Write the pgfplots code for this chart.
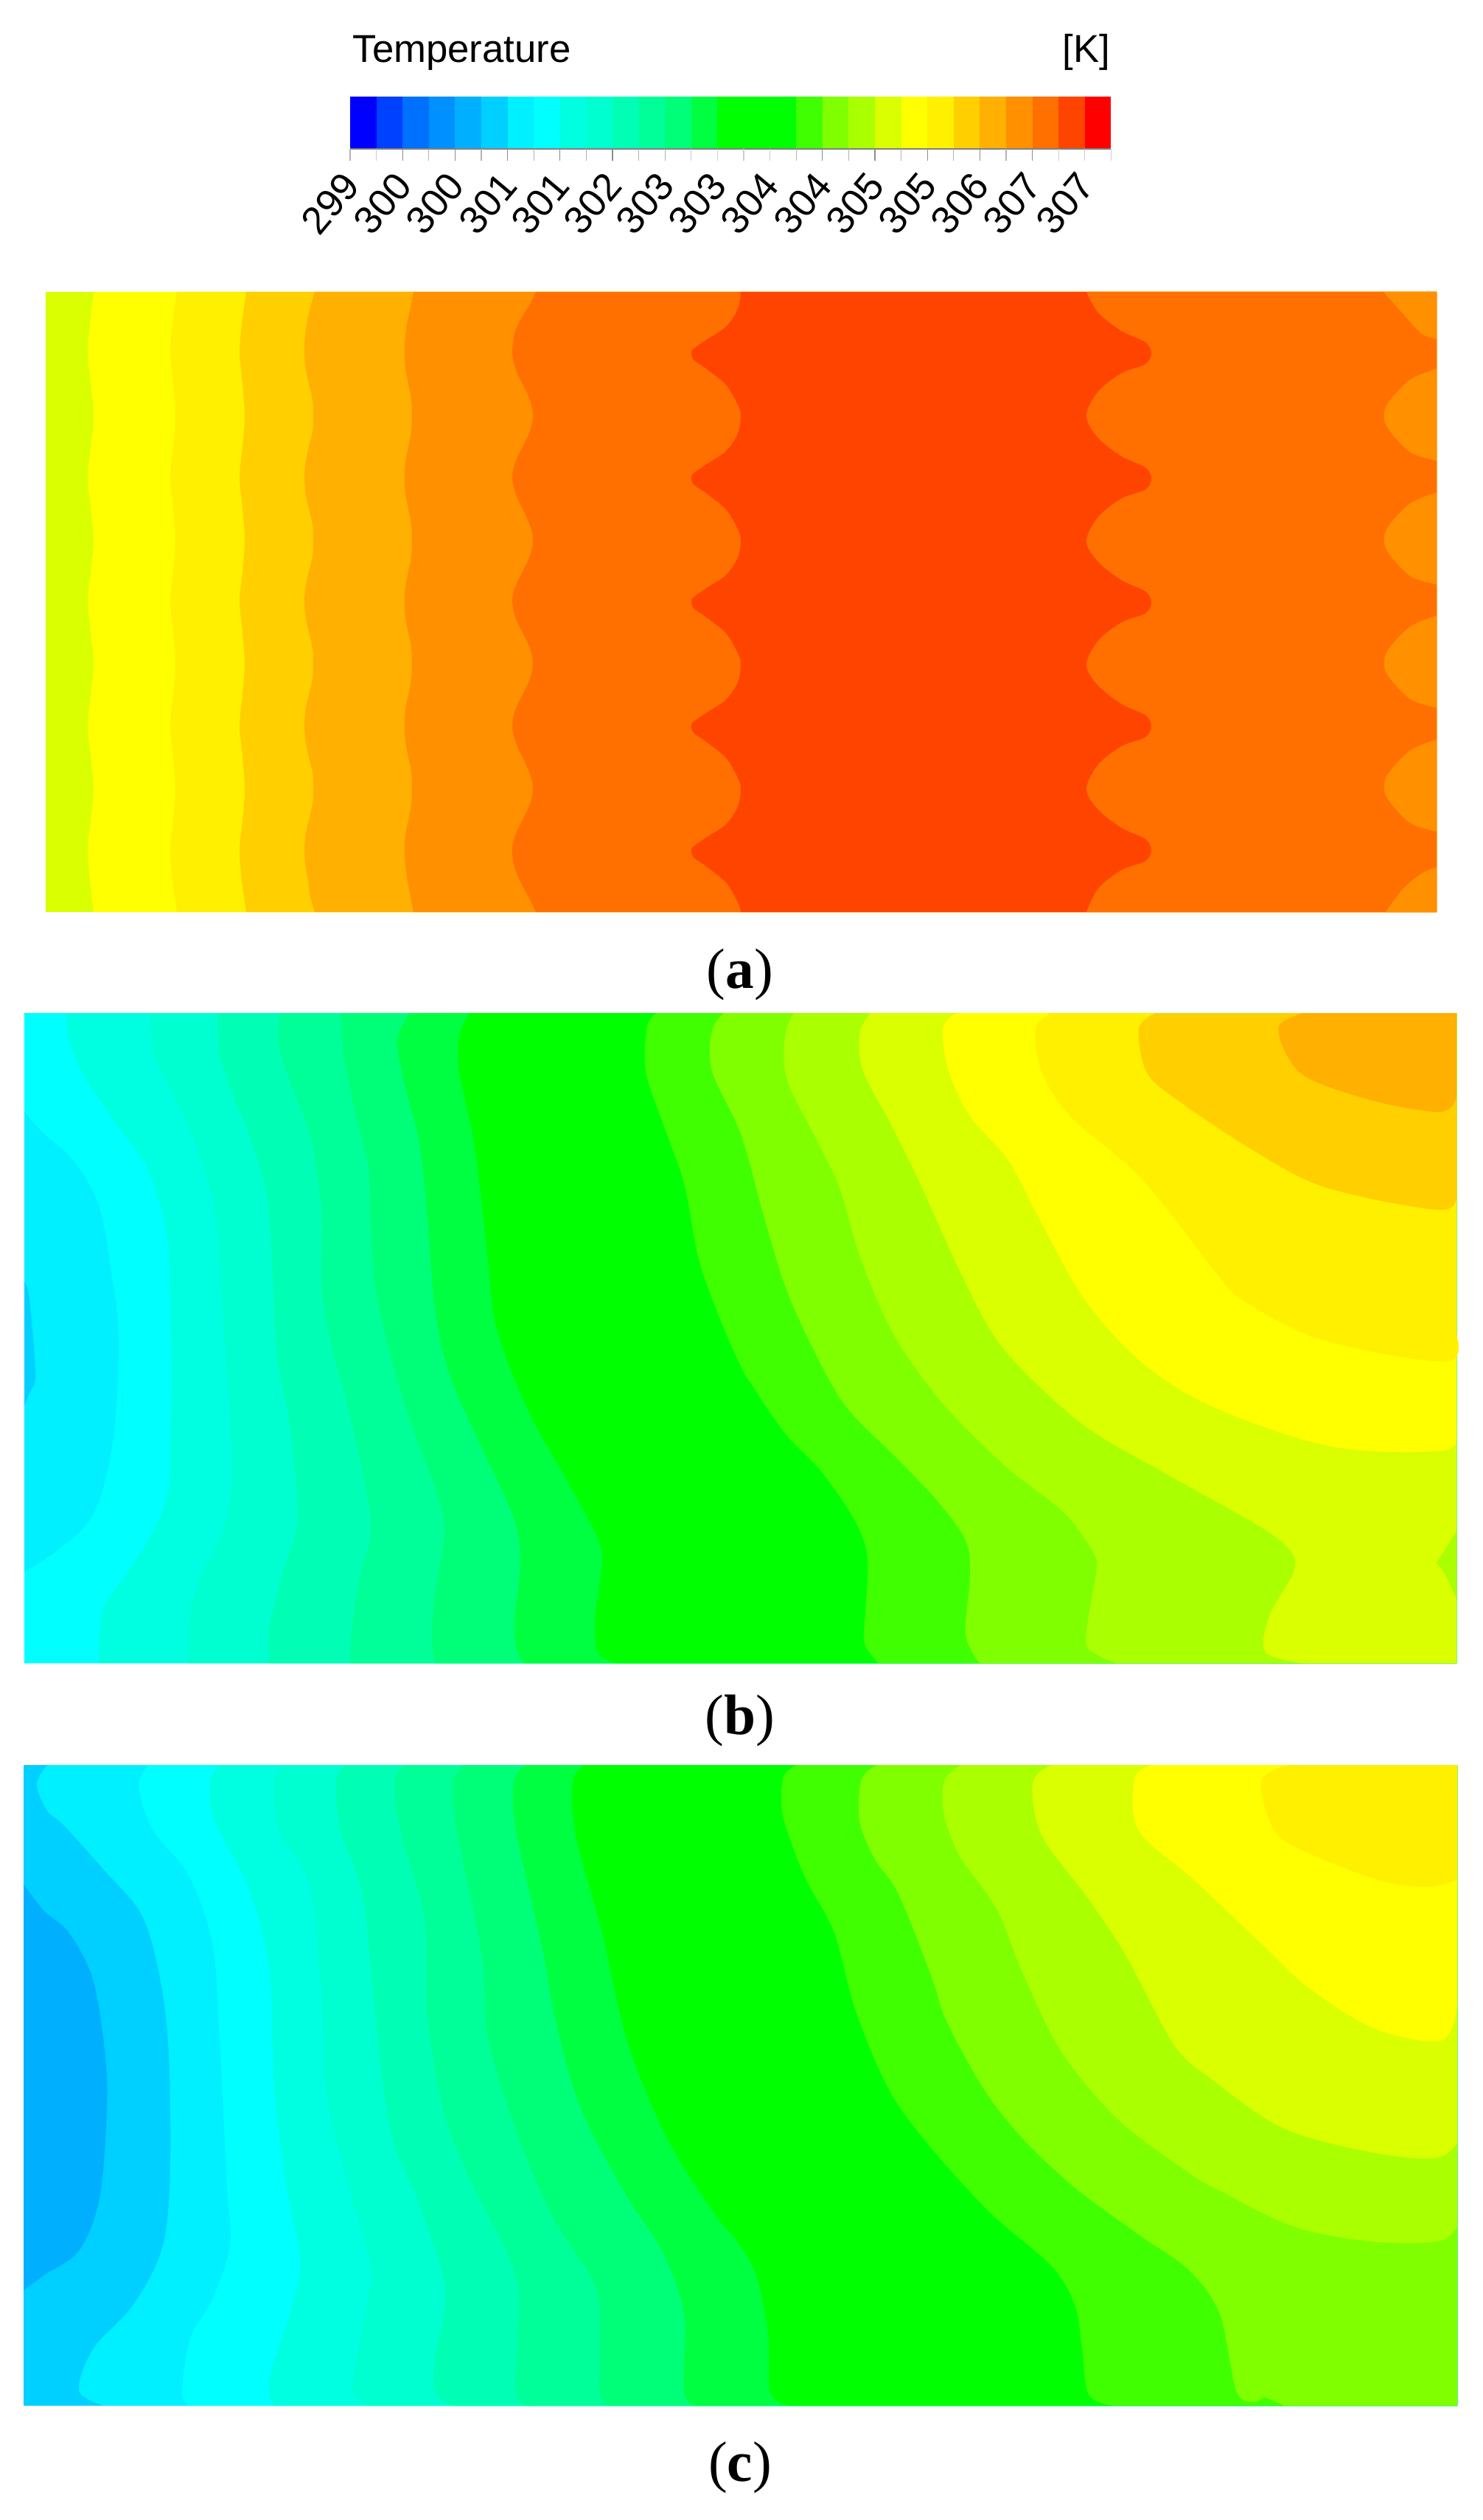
\documentclass[border=0pt]{standalone}
\usepackage{fontspec}
\setmainfont{Liberation Sans}
\newfontfamily\capfont{Liberation Serif}
\usepackage{pgfplots}
\pgfplotsset{compat=1.18}
\definecolor{c00}{HTML}{0000FF}\definecolor{c01}{HTML}{0040FF}\definecolor{c02}{HTML}{0070FF}\definecolor{c03}{HTML}{0090FF}
\definecolor{c04}{HTML}{00B0FF}\definecolor{c05}{HTML}{00D0FF}\definecolor{c06}{HTML}{00F0FF}\definecolor{c07}{HTML}{00FFFF}
\definecolor{c08}{HTML}{00FFE0}\definecolor{c09}{HTML}{00FFD0}\definecolor{c10}{HTML}{00FFB4}\definecolor{c11}{HTML}{00FF98}
\definecolor{c12}{HTML}{00FF78}\definecolor{c13}{HTML}{00FF40}\definecolor{c14}{HTML}{00FF00}\definecolor{c17}{HTML}{40FF00}
\definecolor{c18}{HTML}{80FF00}\definecolor{c19}{HTML}{AAFF00}\definecolor{c20}{HTML}{D9FF00}\definecolor{c21}{HTML}{FFFF00}
\definecolor{c22}{HTML}{FFF000}\definecolor{c23}{HTML}{FFCF00}\definecolor{c24}{HTML}{FFB000}\definecolor{c25}{HTML}{FF9000}
\definecolor{c26}{HTML}{FF7000}\definecolor{c27}{HTML}{FF4400}\definecolor{c28}{HTML}{FF0000}
\tikzset{cf/.style={smooth,tension=0.55,draw=none},cb/.style={draw=none},tk/.style={line width=0.35pt},
 lb/.style={rotate=50,inner sep=0pt,font=\fontsize{15}{17}\selectfont}}
\begin{document}
\begin{tikzpicture}
\begin{axis}[hide axis,scale only axis,width=20.11cm,height=34.18cm,
  xmin=0,xmax=2011,ymin=0,ymax=3418,y dir=reverse,clip=false]
\addplot[fill=white,draw=none] coordinates {(0,0)(2011,0)(2011,3418)(0,3418)} --cycle;
% ---------- colour bar
\addplot[fill=c00,cb] coordinates {(475,131)(511,131)(511,202)(475,202)} --cycle;
\addplot[fill=c01,cb] coordinates {(510.6,131)(547,131)(547,202)(510.6,202)} --cycle;
\addplot[fill=c02,cb] coordinates {(546.2,131)(582,131)(582,202)(546.2,202)} --cycle;
\addplot[fill=c03,cb] coordinates {(581.8,131)(618,131)(618,202)(581.8,202)} --cycle;
\addplot[fill=c04,cb] coordinates {(617.4,131)(653,131)(653,202)(617.4,202)} --cycle;
\addplot[fill=c05,cb] coordinates {(653,131)(689,131)(689,202)(653,202)} --cycle;
\addplot[fill=c06,cb] coordinates {(688.6,131)(725,131)(725,202)(688.6,202)} --cycle;
\addplot[fill=c07,cb] coordinates {(724.2,131)(760,131)(760,202)(724.2,202)} --cycle;
\addplot[fill=c08,cb] coordinates {(759.8,131)(796,131)(796,202)(759.8,202)} --cycle;
\addplot[fill=c09,cb] coordinates {(795.4,131)(831,131)(831,202)(795.4,202)} --cycle;
\addplot[fill=c10,cb] coordinates {(831,131)(867,131)(867,202)(831,202)} --cycle;
\addplot[fill=c11,cb] coordinates {(866.6,131)(903,131)(903,202)(866.6,202)} --cycle;
\addplot[fill=c12,cb] coordinates {(902.2,131)(938,131)(938,202)(902.2,202)} --cycle;
\addplot[fill=c13,cb] coordinates {(937.8,131)(974,131)(974,202)(937.8,202)} --cycle;
\addplot[fill=c14,cb] coordinates {(973.4,131)(1081,131)(1081,202)(973.4,202)} --cycle;
\addplot[fill=c17,cb] coordinates {(1080.2,131)(1116,131)(1116,202)(1080.2,202)} --cycle;
\addplot[fill=c18,cb] coordinates {(1115.8,131)(1152,131)(1152,202)(1115.8,202)} --cycle;
\addplot[fill=c19,cb] coordinates {(1151.4,131)(1187,131)(1187,202)(1151.4,202)} --cycle;
\addplot[fill=c20,cb] coordinates {(1187,131)(1223,131)(1223,202)(1187,202)} --cycle;
\addplot[fill=c21,cb] coordinates {(1222.6,131)(1259,131)(1259,202)(1222.6,202)} --cycle;
\addplot[fill=c22,cb] coordinates {(1258.2,131)(1294,131)(1294,202)(1258.2,202)} --cycle;
\addplot[fill=c23,cb] coordinates {(1293.8,131)(1330,131)(1330,202)(1293.8,202)} --cycle;
\addplot[fill=c24,cb] coordinates {(1329.4,131)(1365,131)(1365,202)(1329.4,202)} --cycle;
\addplot[fill=c25,cb] coordinates {(1365,131)(1401,131)(1401,202)(1365,202)} --cycle;
\addplot[fill=c26,cb] coordinates {(1400.6,131)(1437,131)(1437,202)(1400.6,202)} --cycle;
\addplot[fill=c27,cb] coordinates {(1436.2,131)(1472,131)(1472,202)(1436.2,202)} --cycle;
\addplot[fill=c28,cb] coordinates {(1471.8,131)(1507.4,131)(1507.4,202)(1471.8,202)} --cycle;
\addplot[gray,line width=0.5pt] coordinates {(475,202)(1507.4,202)};
% ticks
\addplot[gray!60,tk] coordinates {(475,202)(475,218)};
\addplot[gray!40,tk] coordinates {(510.6,202)(510.6,218)};
\addplot[gray!90,tk] coordinates {(546.2,202)(546.2,218)};
\addplot[gray!60,tk] coordinates {(581.8,202)(581.8,218)};
\addplot[gray!90,tk] coordinates {(617.4,202)(617.4,218)};
\addplot[gray!60,tk] coordinates {(653,202)(653,218)};
\addplot[gray!90,tk] coordinates {(688.6,202)(688.6,218)};
\addplot[gray!60,tk] coordinates {(724.2,202)(724.2,218)};
\addplot[gray!90,tk] coordinates {(759.8,202)(759.8,218)};
\addplot[gray!60,tk] coordinates {(795.4,202)(795.4,218)};
\addplot[gray!90,tk] coordinates {(831,202)(831,218)};
\addplot[gray!60,tk] coordinates {(866.6,202)(866.6,218)};
\addplot[gray!60,tk] coordinates {(902.2,202)(902.2,218)};
\addplot[gray!40,tk] coordinates {(937.8,202)(937.8,218)};
\addplot[gray!40,tk] coordinates {(973.4,202)(973.4,218)};
\addplot[gray!40,tk] coordinates {(1009,202)(1009,218)};
\addplot[gray!40,tk] coordinates {(1044.6,202)(1044.6,218)};
\addplot[gray!60,tk] coordinates {(1080.2,202)(1080.2,218)};
\addplot[gray!90,tk] coordinates {(1115.8,202)(1115.8,218)};
\addplot[gray!60,tk] coordinates {(1151.4,202)(1151.4,218)};
\addplot[gray!90,tk] coordinates {(1187,202)(1187,218)};
\addplot[gray!60,tk] coordinates {(1222.6,202)(1222.6,218)};
\addplot[gray!90,tk] coordinates {(1258.2,202)(1258.2,218)};
\addplot[gray!60,tk] coordinates {(1293.8,202)(1293.8,218)};
\addplot[gray!90,tk] coordinates {(1329.4,202)(1329.4,218)};
\addplot[gray!60,tk] coordinates {(1365,202)(1365,218)};
\addplot[gray!90,tk] coordinates {(1400.6,202)(1400.6,218)};
\addplot[gray!40,tk] coordinates {(1436.2,202)(1436.2,218)};
\addplot[gray!40,tk] coordinates {(1471.8,202)(1471.8,218)};
\addplot[gray!40,tk] coordinates {(1507.4,202)(1507.4,218)};
% ---------- panel a
\addplot[fill=c20,cb] coordinates {(62,396)(1949,396)(1949,1237)(62,1237)} --cycle;
\addplot[fill=c21,cf] coordinates {(127,396)(122,440)(119,478)(123,521)(127,564)(123,606)(119,647)(123,690)(127,733)(123,775)(119,815)(123,858)(127,900)(123,942)(119,984)(123,1027)(127,1070)(123,1112)(119,1153)(122,1195)(127,1237)} -- (axis cs:1949,1237) -- (axis cs:1949,396) -- cycle;
\addplot[fill=c22,cf] coordinates {(240,396)(234,440)(231,478)(235,521)(238,564)(235,606)(231,647)(235,690)(238,733)(235,775)(231,815)(235,858)(238,900)(235,942)(231,984)(235,1027)(238,1070)(235,1112)(231,1153)(234,1195)(240,1237)} -- (axis cs:1949,1237) -- (axis cs:1949,396) -- cycle;
\addplot[fill=c23,cf] coordinates {(334,396)(328,440)(325,478)(329,521)(332,564)(329,606)(325,647)(329,690)(332,733)(329,775)(325,815)(329,858)(332,900)(329,942)(325,984)(329,1027)(332,1070)(329,1112)(325,1153)(328,1195)(334,1237)} -- (axis cs:1949,1237) -- (axis cs:1949,396) -- cycle;
\addplot[fill=c24,cf] coordinates {(427,396)(421,417)(416,440)(413.5,460)(413,478)(414.5,499)(419,521)(424,542)(425,564)(424,585)(419,606)(414.5,627)(413,647)(414.5,669)(419,690)(424,712)(425,733)(424,754)(419,775)(414.5,796)(413,815)(414.5,836)(419,858)(424,879)(425,900)(424,921)(419,942)(414.5,963)(413,984)(414.5,1005)(419,1027)(424,1048)(425,1070)(424,1091)(419,1112)(414.5,1133)(413,1153)(414.5,1174)(418,1195)(421,1216)(427,1237)} -- (axis cs:1949,1237) -- (axis cs:1949,396) -- cycle;
\addplot[fill=c25,cf] coordinates {(561,396)(557,417)(552,440)(549.5,460)(549,478)(550,499)(554,521)(558,542)(559,564)(558,585)(554,606)(550,627)(549,647)(550,669)(554,690)(558,712)(559,733)(558,754)(554,775)(550,796)(549,815)(550,836)(554,858)(558,879)(559,900)(558,921)(554,942)(550,963)(549,984)(550,1005)(554,1027)(558,1048)(559,1070)(558,1091)(554,1112)(550,1133)(549,1153)(550,1174)(553,1195)(557,1216)(561,1237)} -- (axis cs:1949,1237) -- (axis cs:1949,396) -- cycle;
\addplot[fill=c26,cf] coordinates {(727,396)(719,413)(708,430)(699,450)(696,465)(695,478)(697,492)(702,507)(709,521)(716,535)(721,550)(723,564)(721,578)(716,592)(709,606)(702,620)(697,634)(695,647)(697,661)(702,676)(709,690)(716,705)(721,719)(723,733)(721,747)(716,761)(709,775)(702,789)(697,802)(695,815)(697,829)(702,844)(709,858)(716,872)(721,886)(723,900)(721,914)(716,928)(709,942)(702,956)(697,970)(695,984)(697,998)(702,1013)(709,1027)(716,1042)(721,1056)(723,1070)(721,1084)(716,1098)(709,1112)(702,1126)(697,1140)(695,1153)(696,1167)(700,1182)(708,1200)(719,1220)(727,1237)} -- (axis cs:1949,1237) -- (axis cs:1949,396) -- cycle;
\addplot[fill=c27,cf] coordinates {(1005,396)(1001,419)(985,443)(958,461)(941,473)(938,478)(941,488)(958,500)(985,522)(1001,549)(1005,564)(1001,588)(985,612)(958,630)(941,642)(938,647)(941,657)(958,669)(985,691)(1001,718)(1005,733)(1001,756)(985,780)(958,798)(941,810)(938,815)(941,825)(958,837)(985,859)(1001,886)(1005,901)(1001,925)(985,949)(958,967)(941,979)(938,984)(941,994)(958,1006)(985,1028)(1001,1055)(1005,1070)(1001,1094)(985,1118)(958,1136)(941,1148)(938,1153)(941,1163)(958,1175)(985,1197)(1001,1224)(1005,1237)} -- (axis cs:1949,1237) -- (axis cs:1949,396) -- cycle;
\addplot[fill=c26,cf] coordinates {(1474,396)(1490,424)(1522,449)(1554,464)(1562,479)(1554,494)(1522,506)(1490,531)(1474,564)(1490,594)(1522,619)(1554,634)(1562,649)(1554,664)(1522,676)(1490,701)(1474,734)(1490,762)(1522,787)(1554,802)(1562,817)(1554,832)(1522,844)(1490,869)(1474,902)(1490,930)(1522,955)(1554,970)(1562,985)(1554,1000)(1522,1012)(1490,1037)(1474,1070)(1490,1098)(1522,1123)(1554,1138)(1562,1153)(1554,1168)(1522,1180)(1490,1205)(1474,1237)} -- (axis cs:1949,1237) -- (axis cs:1949,396) -- cycle;
\addplot[fill=c25,cf] coordinates {(1877,396)(1903,425)(1928,452)(1949,460)} -- (axis cs:1949,396) -- cycle;
\addplot[fill=c25,cf] coordinates {(1949,500)(1916,513)(1893,534)(1880,552)(1878,564)(1880,576)(1893,594)(1916,615)(1949,625)} --cycle;
\addplot[fill=c25,cf] coordinates {(1949,668)(1916,681)(1893,702)(1880,720)(1878,732)(1880,744)(1893,762)(1916,783)(1949,793)} --cycle;
\addplot[fill=c25,cf] coordinates {(1949,835)(1916,848)(1893,869)(1880,887)(1878,899)(1880,911)(1893,929)(1916,950)(1949,960)} --cycle;
\addplot[fill=c25,cf] coordinates {(1949,1003)(1916,1016)(1893,1037)(1880,1055)(1878,1067)(1880,1079)(1893,1097)(1916,1118)(1949,1128)} --cycle;
\addplot[fill=c25,cf] coordinates {(1880,1237)(1903,1206)(1928,1185)(1949,1176)} -- (axis cs:1949,1237) -- cycle;
% ---------- panel b
\addplot[fill=c07,cb] coordinates {(33,1374)(1976,1374)(1976,2256)(33,2256)} --cycle;
\addplot[fill=c06,cf] coordinates {(33,1508)(60,1538)(100,1574)(134,1635)(151,1726)(161,1817)(153,1956)(127,2053)(80,2101)(33,2132)} --cycle;
\addplot[fill=c05,cf] coordinates {(33,1738)(40,1762)(48,1865)(40,1889)(33,1907)} --cycle;
\addplot[fill=c08,cf] coordinates {(90,1374)(94,1411)(114,1459)(154,1520)(194,1574)(214,1623)(228,1689)(231,1774)(233,1865)(231,1956)(228,2023)(208,2077)(174,2132)(141,2180)(134,2235)(134,2256)} -- (axis cs:1976,2256) -- (axis cs:1976,1374) -- cycle;
\addplot[fill=c09,cf] coordinates {(204,1374)(208,1429)(228,1471)(255,1526)(275,1580)(291,1641)(298,1726)(305,1823)(312,1926)(314,2017)(302,2077)(275,2132)(258,2186)(255,2256)} -- (axis cs:1976,2256) -- (axis cs:1976,1374) -- cycle;
\addplot[fill=c10,cf] coordinates {(295,1374)(298,1429)(315,1483)(342,1550)(362,1623)(369,1714)(375,1835)(392,1926)(402,2017)(402,2077)(382,2138)(365,2211)(365,2256)} -- (axis cs:1976,2256) -- (axis cs:1976,1374) -- cycle;
\addplot[fill=c11,cf] coordinates {(379,1374)(379,1423)(402,1489)(422,1544)(436,1641)(436,1744)(452,1835)(469,1895)(496,2017)(503,2077)(486,2150)(476,2223)(476,2256)} -- (axis cs:1976,2256) -- (axis cs:1976,1374) -- cycle;
\addplot[fill=c12,cf] coordinates {(462,1374)(466,1429)(482,1508)(499,1580)(503,1653)(509,1744)(529,1835)(556,1926)(590,2017)(603,2077)(590,2162)(586,2223)(590,2256)} -- (axis cs:1976,2256) -- (axis cs:1976,1374) -- cycle;
\addplot[fill=c13,cf] coordinates {(556,1374)(539,1411)(549,1471)(570,1556)(580,1653)(590,1774)(610,1865)(650,1956)(697,2059)(706,2120)(698,2198)(700,2235)(710,2256)} -- (axis cs:1976,2256) -- (axis cs:1976,1374) -- cycle;
\addplot[fill=c14,cf] coordinates {(637,1374)(623,1405)(623,1453)(643,1550)(660,1689)(673,1798)(717,1914)(771,2011)(814,2095)(814,2144)(807,2198)(811,2241)(834,2256)} -- (axis cs:1976,2256) -- (axis cs:1976,1374) -- cycle;
\addplot[fill=c17,cf] coordinates {(891,1374)(878,1392)(876,1453)(898,1520)(928,1605)(948,1708)(978,1792)(1005,1853)(1019,1877)(1065,1944)(1116,1998)(1161,2065)(1177,2114)(1174,2186)(1173,2229)(1192,2256)} -- (axis cs:1976,2256) -- (axis cs:1976,1374) -- cycle;
\addplot[fill=c18,cf] coordinates {(982,1374)(966,1398)(966,1453)(1005,1538)(1035,1645)(1065,1744)(1103,1829)(1148,1908)(1219,1980)(1271,2035)(1310,2089)(1316,2138)(1310,2217)(1329,2256)} -- (axis cs:1976,2256) -- (axis cs:1976,1374) -- cycle;
\addplot[fill=c19,cf] coordinates {(1077,1374)(1065,1405)(1068,1465)(1110,1550)(1139,1611)(1168,1708)(1213,1811)(1277,1901)(1361,1986)(1445,2053)(1484,2108)(1487,2132)(1476,2198)(1476,2235)(1513,2256)} -- (axis cs:1976,2256) -- (axis cs:1976,1374) -- cycle;
\addplot[fill=c20,cf] coordinates {(1181,1374)(1166,1402)(1171,1453)(1206,1520)(1248,1605)(1303,1726)(1348,1811)(1400,1871)(1477,1938)(1580,1998)(1710,2071)(1751,2104)(1755,2132)(1722,2192)(1717,2241)(1768,2256)} -- (axis cs:1976,2256) -- (axis cs:1976,1374) -- cycle;
\addplot[fill=c19,cb] coordinates {(1976,2077)(1949,2120)(1961,2135)(1976,2168)} --cycle;
\addplot[fill=c21,cf] coordinates {(1297,1374)(1279,1395)(1287,1453)(1316,1514)(1368,1574)(1413,1659)(1471,1762)(1548,1847)(1645,1908)(1806,1962)(1955,1968)(1976,1947)} -- (axis cs:1976,1374) -- cycle;
\addplot[fill=c22,cf] coordinates {(1426,1374)(1405,1395)(1413,1453)(1452,1514)(1548,1598)(1645,1720)(1684,1762)(1793,1817)(1961,1847)(1976,1811)} -- (axis cs:1976,1374) -- cycle;
\addplot[fill=c23,cf] coordinates {(1568,1374)(1545,1395)(1555,1453)(1593,1489)(1703,1562)(1800,1611)(1955,1641)(1976,1614)} -- (axis cs:1976,1374) -- cycle;
\addplot[fill=c24,cf] coordinates {(1768,1374)(1735,1392)(1748,1435)(1780,1465)(1871,1495)(1955,1508)(1976,1488)} -- (axis cs:1976,1374) -- cycle;
% ---------- panel c
\addplot[fill=c05,cb] coordinates {(32,2394)(1977,2394)(1977,3263)(32,3263)} --cycle;
\addplot[fill=c04,cf] coordinates {(32,2556)(60,2592)(94,2622)(127,2688)(144,2801)(144,2887)(134,2987)(107,3053)(60,3086)(32,3106)} --cycle;
\addplot[fill=c06,cf] coordinates {(64,2394)(50,2420)(64,2456)(87,2476)(141,2536)(191,2595)(214,2668)(228,2768)(231,2934)(221,3046)(181,3126)(127,3185)(107,3242)(141,3263)} -- (axis cs:1977,3263) -- (axis cs:1977,2394) -- cycle;
\addplot[fill=c07,cf] coordinates {(201,2394)(188,2423)(208,2483)(255,2542)(288,2635)(298,2768)(308,2967)(312,3046)(288,3119)(258,3172)(247,3245)(258,3263)} -- (axis cs:1977,3263) -- (axis cs:1977,2394) -- cycle;
\addplot[fill=c08,cf] coordinates {(298,2394)(285,2416)(291,2469)(335,2556)(365,2668)(372,2834)(389,2967)(407,3066)(395,3132)(369,3212)(365,3245)(372,3263)} -- (axis cs:1977,3263) -- (axis cs:1977,2394) -- cycle;
\addplot[fill=c09,cf] coordinates {(389,2394)(372,2416)(379,2483)(419,2556)(436,2702)(442,2834)(469,2953)(503,3073)(496,3132)(479,3225)(479,3245)(499,3263)} -- (axis cs:1977,3263) -- (axis cs:1977,2394) -- cycle;
\addplot[fill=c10,cf] coordinates {(469,2394)(456,2416)(462,2483)(492,2569)(506,2702)(529,2887)(570,2993)(604,3106)(590,3199)(590,3245)(613,3263)} -- (axis cs:1977,3263) -- (axis cs:1977,2394) -- cycle;
\addplot[fill=c11,cf] coordinates {(549,2394)(536,2416)(543,2483)(576,2602)(580,2735)(603,2867)(643,2967)(690,3060)(704,3119)(700,3245)(724,3263)} -- (axis cs:1977,3263) -- (axis cs:1977,2394) -- cycle;
\addplot[fill=c12,cf] coordinates {(630,2394)(615,2416)(620,2483)(653,2648)(663,2768)(704,2900)(750,3006)(807,3099)(814,3166)(814,3245)(827,3263)} -- (axis cs:1977,3263) -- (axis cs:1977,2394) -- cycle;
\addplot[fill=c13,cf] coordinates {(714,2394)(697,2416)(700,2483)(734,2635)(757,2755)(791,2867)(851,2980)(898,3053)(928,3139)(928,3245)(948,3263)} -- (axis cs:1977,3263) -- (axis cs:1977,2394) -- cycle;
\addplot[fill=c14,cf] coordinates {(794,2394)(777,2416)(781,2489)(817,2622)(851,2768)(905,2900)(972,3006)(1000,3040)(1026,3086)(1042,3166)(1045,3245)(1071,3263)} -- (axis cs:1977,3263) -- (axis cs:1977,2394) -- cycle;
\addplot[fill=c17,cf] coordinates {(1081,2394)(1063,2410)(1061,2456)(1077,2509)(1097,2556)(1132,2622)(1161,2728)(1206,2834)(1258,2907)(1342,3000)(1426,3073)(1458,3126)(1468,3185)(1477,3248)(1510,3263)} -- (axis cs:1977,3263) -- (axis cs:1977,2394) -- cycle;
\addplot[fill=c18,cf] coordinates {(1190,2394)(1169,2413)(1166,2469)(1187,2522)(1219,2569)(1264,2682)(1284,2741)(1335,2834)(1387,2900)(1458,2967)(1548,3033)(1613,3079)(1655,3139)(1677,3242)(1700,3258)(1716,3252)(1742,3263)} -- (axis cs:1977,3263) -- (axis cs:1977,2394) -- cycle;
\addplot[fill=c19,cf] coordinates {(1303,2394)(1281,2416)(1281,2463)(1303,2519)(1352,2589)(1387,2675)(1439,2781)(1516,2874)(1613,2947)(1658,2973)(1755,3020)(1858,3040)(1951,3040)(1977,3020)} -- (axis cs:1977,2394) -- cycle;
\addplot[fill=c20,cf] coordinates {(1426,2394)(1401,2418)(1413,2489)(1477,2576)(1529,2655)(1593,2774)(1645,2821)(1742,2887)(1864,2920)(1948,2927)(1977,2907)} -- (axis cs:1977,2394) -- cycle;
\addplot[fill=c21,cf] coordinates {(1561,2394)(1539,2413)(1545,2483)(1619,2549)(1710,2635)(1774,2695)(1864,2751)(1955,2768)(1977,2721)} -- (axis cs:1977,2394) -- cycle;
\addplot[fill=c22,cf] coordinates {(1748,2394)(1711,2416)(1729,2483)(1774,2513)(1877,2552)(1942,2559)(1977,2549)} -- (axis cs:1977,2394) -- cycle;
% ---------- text
\node[anchor=base west,inner sep=0pt,font=\fontsize{15}{16}\selectfont] at (axis cs:478,85) {Temperature};
\node[anchor=base east,inner sep=0pt,font=\fontsize{15}{16}\selectfont] at (axis cs:1507,85) {[K]};
\node[lb] at (axis cs:448,276) {299};
\node[lb] at (axis cs:519,276) {300};
\node[lb] at (axis cs:590,276) {300};
\node[lb] at (axis cs:662,276) {301};
\node[lb] at (axis cs:733,276) {301};
\node[lb] at (axis cs:804,276) {302};
\node[lb] at (axis cs:875,276) {303};
\node[lb] at (axis cs:946,276) {303};
\node[lb] at (axis cs:1017,276) {304};
\node[lb] at (axis cs:1089,276) {304};
\node[lb] at (axis cs:1160,276) {305};
\node[lb] at (axis cs:1231,276) {305};
\node[lb] at (axis cs:1302,276) {306};
\node[lb] at (axis cs:1373,276) {307};
\node[lb] at (axis cs:1445,276) {307};
\node[inner sep=0pt,font=\capfont\fontsize{22}{24}\selectfont] at (axis cs:1004,1322) {(\textbf{a})};
\node[inner sep=0pt,font=\capfont\fontsize{22}{24}\selectfont] at (axis cs:1004,2334) {(\textbf{b})};
\node[inner sep=0pt,font=\capfont\fontsize{22}{24}\selectfont] at (axis cs:1004,3347) {(\textbf{c})};
\end{axis}
\end{tikzpicture}
\end{document}
